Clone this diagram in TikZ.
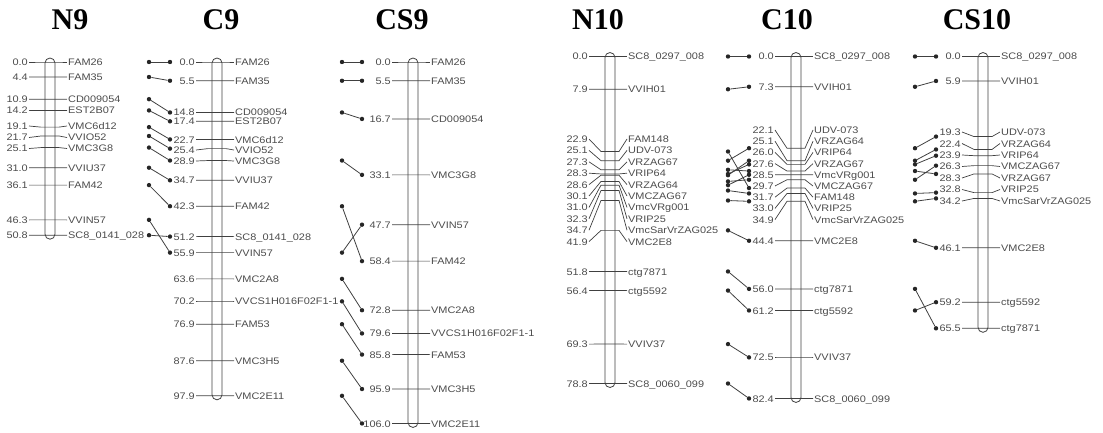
\documentclass[tikz,border=0pt]{standalone}
\usepackage{fontspec}
\setmainfont{Liberation Serif}
\newfontfamily\mapfont[FakeStretch=1.15]{Liberation Sans}
\usetikzlibrary{positioning}

% one locus on a map: #1 name, #2 position (cM), #3 y of the label, #4 locus
\newcommand{\mk}[4]{%
  \node[num, anchor=east] (#1n) at (-21,#3) {#2};
  \node[locus, anchor=west] (#1m) at (17,#3) {#4};
  \draw[tick] (#1n.east) -- (-9,{\mapy+\mapk*#2}) -- (9,{\mapy+\mapk*#2}) -- (#1m.west);
}
% same locus on the map to the left: #1 name, #2 cM there, #3 cM here
\newcommand{\cmp}[3]{%
  \node[dot] (#1a) at (\dotl,{\mapy+\mapk*#2}) {};
  \node[dot] (#1b) at (\dotr,{\mapy+\mapk*#3}) {};
  \draw[link] (#1a) -- (#1b);
}
\def\dotl{-68}\def\dotr{-47}

\begin{document}
\begin{tikzpicture}[x=1pt, y=-1pt,
  num/.style={font=\fontsize{9.5}{10}\mapfont, text=black!70, inner sep=1pt, text height=7pt, text depth=0pt},
  locus/.style={num},
  tick/.style={draw=black!75, line width=0.7pt},
  bar/.style={draw=black!75, line width=0.8pt, rounded corners=5pt},
  dot/.style={circle, fill=black!85, inner sep=0pt, minimum size=4.4pt},
  link/.style={draw=black!75, line width=0.8pt},
  title/.style={font=\fontsize{30}{30}\selectfont\bfseries}
]
\useasboundingbox (0,0) rectangle (1103,433);

\node[title] (tN9) at (70,20) {N9};
\node[title] (tC9) at (221,20) {C9};
\node[title] (tCS9) at (402,20) {CS9};
\node[title] (tN10) at (598,20) {N10};
\node[title] (tC10) at (787,20) {C10};
\node[title] (tCS10) at (977,20) {CS10};

% linkage group 9
\def\mapy{62}\def\mapk{3.41}

% N9
\begin{scope}[xshift=50pt]
\draw[bar] (-5,{\mapy-4}) rectangle (5,{\mapy+\mapk*50.8+4});
\mk{n9-1}{0.0}{62}{FAM26}
\mk{n9-2}{4.4}{77}{FAM35}
\mk{n9-3}{10.9}{99.2}{CD009054}
\mk{n9-4}{14.2}{110.4}{EST2B07}
\mk{n9-5}{19.1}{126}{VMC6d12}
\mk{n9-6}{21.7}{137.5}{VVIO52}
\mk{n9-7}{25.1}{148.5}{VMC3G8}
\mk{n9-8}{31.0}{167.7}{VVIU37}
\mk{n9-9}{36.1}{185.1}{FAM42}
\mk{n9-10}{46.3}{219.9}{VVIN57}
\mk{n9-11}{50.8}{235.2}{SC8\_0141\_028}
\end{scope}

% C9
\begin{scope}[xshift=217pt]
\draw[bar] (-5,{\mapy-4}) rectangle (5,{\mapy+\mapk*97.9+4});
\mk{c9-1}{0.0}{62}{FAM26}
\mk{c9-2}{5.5}{80.8}{FAM35}
\mk{c9-3}{14.8}{112.5}{CD009054}
\mk{c9-4}{17.4}{121.3}{EST2B07}
\mk{c9-5}{22.7}{139.5}{VMC6d12}
\mk{c9-6}{25.4}{150}{VVIO52}
\mk{c9-7}{28.9}{161}{VMC3G8}
\mk{c9-8}{34.7}{180.3}{VVIU37}
\mk{c9-9}{42.3}{206.2}{FAM42}
\mk{c9-10}{51.2}{236.6}{SC8\_0141\_028}
\mk{c9-11}{55.9}{252.6}{VVIN57}
\mk{c9-12}{63.6}{278.9}{VMC2A8}
\mk{c9-13}{70.2}{301.4}{VVCS1H016F02F1-1}
\mk{c9-14}{76.9}{324.2}{FAM53}
\mk{c9-15}{87.6}{360.7}{VMC3H5}
\mk{c9-16}{97.9}{395.8}{VMC2E11}
\cmp{c9x1}{0.0}{0.0}
\cmp{c9x2}{4.4}{5.5}
\cmp{c9x3}{10.9}{14.8}
\cmp{c9x4}{14.2}{17.4}
\cmp{c9x5}{19.1}{22.7}
\cmp{c9x6}{21.7}{25.4}
\cmp{c9x7}{25.1}{28.9}
\cmp{c9x8}{31.0}{34.7}
\cmp{c9x9}{36.1}{42.3}
\cmp{c9x10}{46.3}{55.9}
\cmp{c9x11}{50.8}{51.2}
\end{scope}

% CS9
\begin{scope}[xshift=413pt]
\def\dotl{-71}\def\dotr{-51}
\draw[bar] (-5,{\mapy-4}) rectangle (5,{\mapy+\mapk*106.0+4});
\mk{cs9-1}{0.0}{62}{FAM26}
\mk{cs9-2}{5.5}{80.8}{FAM35}
\mk{cs9-3}{16.7}{118.9}{CD009054}
\mk{cs9-4}{33.1}{174.9}{VMC3G8}
\mk{cs9-5}{47.7}{224.7}{VVIN57}
\mk{cs9-6}{58.4}{261.1}{FAM42}
\mk{cs9-7}{72.8}{310.2}{VMC2A8}
\mk{cs9-8}{79.6}{333.4}{VVCS1H016F02F1-1}
\mk{cs9-9}{85.8}{354.6}{FAM53}
\mk{cs9-10}{95.9}{389}{VMC3H5}
\mk{cs9-11}{106.0}{423.5}{VMC2E11}
\cmp{cs9x1}{0.0}{0.0}
\cmp{cs9x2}{5.5}{5.5}
\cmp{cs9x3}{14.8}{16.7}
\cmp{cs9x4}{28.9}{33.1}
\cmp{cs9x5}{55.9}{47.7}
\cmp{cs9x6}{42.3}{58.4}
\cmp{cs9x7}{63.6}{72.8}
\cmp{cs9x8}{70.2}{79.6}
\cmp{cs9x9}{76.9}{85.8}
\cmp{cs9x10}{87.6}{95.9}
\cmp{cs9x11}{97.9}{106.0}
\end{scope}

% linkage group 10
\def\mapy{56.5}\def\mapk{4.15}

% N10
\begin{scope}[xshift=610pt]
\draw[bar] (-5,{\mapy-4}) rectangle (5,{\mapy+\mapk*78.8+4});
\mk{n10-1}{0.0}{56.5}{SC8\_0297\_008}
\mk{n10-2}{7.9}{89.3}{VVIH01}
\mk{n10-3}{22.9}{139}{FAM148}
\mk{n10-4}{25.1}{150.4}{UDV-073}
\mk{n10-5}{27.3}{161.8}{VRZAG67}
\mk{n10-6}{28.3}{173.2}{VRIP64}
\mk{n10-7}{28.6}{184.6}{VRZAG64}
\mk{n10-8}{30.1}{196}{VMCZAG67}
\mk{n10-9}{31.0}{207.4}{VmcVRg001}
\mk{n10-10}{32.3}{218.8}{VRIP25}
\mk{n10-11}{34.7}{230.2}{VmcSarVrZAG025}
\mk{n10-12}{41.9}{241.6}{VMC2E8}
\mk{n10-13}{51.8}{271.5}{ctg7871}
\mk{n10-14}{56.4}{290.6}{ctg5592}
\mk{n10-15}{69.3}{344.1}{VVIV37}
\mk{n10-16}{78.8}{383.5}{SC8\_0060\_099}
\end{scope}

% C10
\begin{scope}[xshift=796pt]
\draw[bar] (-5,{\mapy-4}) rectangle (5,{\mapy+\mapk*82.4+4});
\mk{c10-1}{0.0}{56.5}{SC8\_0297\_008}
\mk{c10-2}{7.3}{86.8}{VVIH01}
\mk{c10-3}{22.1}{130}{UDV-073}
\mk{c10-4}{25.1}{141.2}{VRZAG64}
\mk{c10-5}{26.0}{152.4}{VRIP64}
\mk{c10-6}{27.6}{163.6}{VRZAG67}
\mk{c10-7}{28.5}{174.8}{VmcVRg001}
\mk{c10-8}{29.7}{186}{VMCZAG67}
\mk{c10-9}{31.7}{197.2}{FAM148}
\mk{c10-10}{33.0}{208.4}{VRIP25}
\mk{c10-11}{34.9}{219.6}{VmcSarVrZAG025}
\mk{c10-12}{44.4}{240.8}{VMC2E8}
\mk{c10-13}{56.0}{288.9}{ctg7871}
\mk{c10-14}{61.2}{310.5}{ctg5592}
\mk{c10-15}{72.5}{357.4}{VVIV37}
\mk{c10-16}{82.4}{398.5}{SC8\_0060\_099}
\cmp{c10x1}{0.0}{0.0}
\cmp{c10x2}{7.9}{7.3}
\cmp{c10x3}{22.9}{31.7}
\cmp{c10x4}{25.1}{22.1}
\cmp{c10x5}{27.3}{27.6}
\cmp{c10x6}{28.3}{26.0}
\cmp{c10x7}{28.6}{25.1}
\cmp{c10x8}{30.1}{29.7}
\cmp{c10x9}{31.0}{28.5}
\cmp{c10x10}{32.3}{33.0}
\cmp{c10x11}{34.7}{34.9}
\cmp{c10x12}{41.9}{44.4}
\cmp{c10x13}{51.8}{56.0}
\cmp{c10x14}{56.4}{61.2}
\cmp{c10x15}{69.3}{72.5}
\cmp{c10x16}{78.8}{82.4}
\end{scope}

% CS10
\begin{scope}[xshift=983pt]
\draw[bar] (-5,{\mapy-4}) rectangle (5,{\mapy+\mapk*65.5+4});
\mk{cs10-1}{0.0}{56.5}{SC8\_0297\_008}
\mk{cs10-2}{5.9}{81}{VVIH01}
\mk{cs10-3}{19.3}{132}{UDV-073}
\mk{cs10-4}{22.4}{143.5}{VRZAG64}
\mk{cs10-5}{23.9}{155}{VRIP64}
\mk{cs10-6}{26.3}{166.5}{VMCZAG67}
\mk{cs10-7}{28.3}{178}{VRZAG67}
\mk{cs10-8}{32.8}{189.5}{VRIP25}
\mk{cs10-9}{34.2}{201}{VmcSarVrZAG025}
\mk{cs10-10}{46.1}{247.8}{VMC2E8}
\mk{cs10-11}{59.2}{302.2}{ctg5592}
\mk{cs10-12}{65.5}{328.3}{ctg7871}
\cmp{cs10x1}{0.0}{0.0}
\cmp{cs10x2}{7.3}{5.9}
\cmp{cs10x3}{22.1}{19.3}
\cmp{cs10x4}{25.1}{22.4}
\cmp{cs10x5}{26.0}{23.9}
\cmp{cs10x6}{29.7}{26.3}
\cmp{cs10x7}{27.6}{28.3}
\cmp{cs10x8}{33.0}{32.8}
\cmp{cs10x9}{34.9}{34.2}
\cmp{cs10x10}{44.4}{46.1}
\cmp{cs10x11}{61.2}{59.2}
\cmp{cs10x12}{56.0}{65.5}
\end{scope}

\end{tikzpicture}
\end{document}
